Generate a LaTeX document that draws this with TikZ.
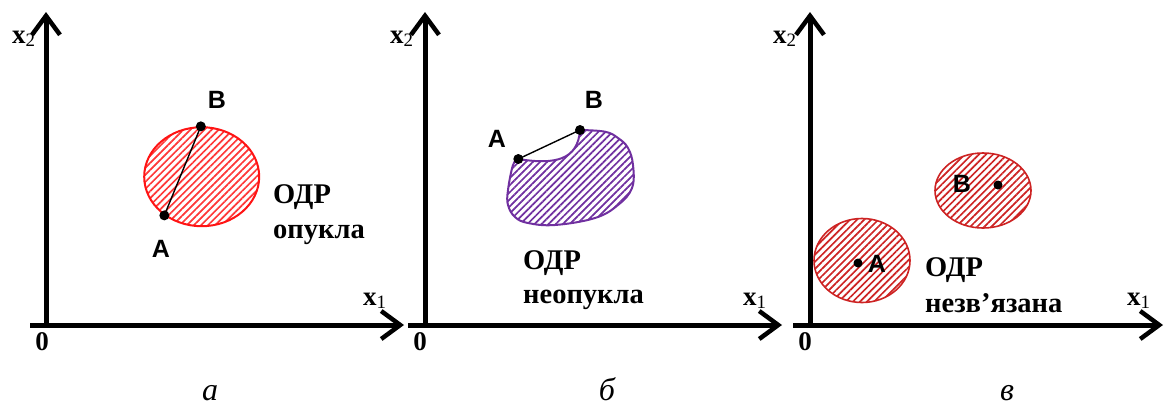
\documentclass[tikz,border=0pt]{standalone}
\usepackage{fontspec}
\setmainfont{Liberation Serif}
\newfontfamily\ptfont{Liberation Sans}
\usetikzlibrary{arrows.meta,patterns.meta,shapes.geometric}
\definecolor{odrred}{RGB}{255,20,20}
\definecolor{odrdark}{RGB}{205,35,35}
\definecolor{odrpurple}{RGB}{112,48,160}
\tikzset{
  axis/.style={line width=5pt,-{Straight Barb[length=19pt,width=28pt,line width=4.5pt]}},
  axlbl/.style={inner sep=0pt,anchor=base west,font=\fontsize{27}{30}\selectfont\bfseries},
  ptlbl/.style={inner sep=0pt,anchor=base,font=\ptfont\fontsize{25}{28}\selectfont\bfseries},
  odrlbl/.style={inner sep=0pt,anchor=base west,font=\fontsize{28.5}{32}\selectfont\bfseries},
  caplbl/.style={inner sep=0pt,anchor=base,font=\fontsize{32}{36}\selectfont\itshape},
  dot/.style={circle,fill=black,inner sep=0pt,minimum size=10pt},
  hatch/.style={pattern={Lines[angle=45,distance=5pt,line width=1.7pt]},pattern color=#1}
}
\begin{document}
\begin{tikzpicture}[x=1pt,y=-1pt]
  \useasboundingbox (0,0) rectangle (1167,405);
  % --- a: convex
  \coordinate (a-x0) at (30,325);   \coordinate (a-x1) at (404,325);
  \coordinate (a-y0) at (46,327);   \coordinate (a-y1) at (46,12);
  \draw[axis] (a-x0) -- (a-x1);
  \draw[axis] (a-y0) -- (a-y1);
  \node[axlbl] (a-lx2) at (12,43) {x\textsubscript{\mdseries 2}};
  \node[axlbl] (a-lx1) at (363,305) {x\textsubscript{\mdseries 1}};
  \node[axlbl,anchor=base] (a-l0) at (42,350) {0};
  \node[ellipse,draw=odrred,line width=2pt,hatch=odrred!85,inner sep=0pt,
        minimum width=115pt,minimum height=99pt] (a-odr) at (201.7,176.7) {};
  \node[dot] (a-B) at (a-odr.91) {};
  \node[dot] (a-A) at (a-odr.226) {};
  \draw[line width=1.4pt] (a-A.center) -- (a-B.center);
  \node[ptlbl] (a-lB) at (217,108) {B};
  \node[ptlbl] (a-lA) at (161,257) {A};
  \node[odrlbl] (a-t1) at (273,203) {ОДР};
  \node[odrlbl] (a-t2) at (273,238) {опукла};
  \node[caplbl] (a-cap) at (210,400) {а};
  % --- b: non-convex
  \coordinate (b-x0) at (408,325);  \coordinate (b-x1) at (782,325);
  \coordinate (b-y0) at (425,327);  \coordinate (b-y1) at (425,12);
  \draw[axis] (b-x0) -- (b-x1);
  \draw[axis] (b-y0) -- (b-y1);
  \node[axlbl] (b-lx2) at (390,43) {x\textsubscript{\mdseries 2}};
  \node[axlbl] (b-lx1) at (743,305) {x\textsubscript{\mdseries 1}};
  \node[axlbl,anchor=base] (b-l0) at (420,350) {0};
  \coordinate (b-pA) at (518.3,159);
  \coordinate (b-pB) at (580,130);
  \draw[odrpurple,line width=2pt,hatch=odrpurple,line join=round]
    plot[smooth,tension=0.65] coordinates {(580,130) (605,131.7) (618,138)
      (628,148) (633,165) (632,188) (618,205) (595,218)
      (555,225) (528,223) (515,217) (508,205) (508,190)
      (513,165) (518.3,159)}
    .. controls (555,165) and (578,160) .. (b-pB) -- cycle;
  \node[dot] (b-A) at (b-pA) {};
  \node[dot] (b-B) at (b-pB) {};
  \draw[line width=1.4pt] (b-A.center) -- (b-B.center);
  \node[ptlbl] (b-lA) at (497,147) {A};
  \node[ptlbl] (b-lB) at (594,108) {B};
  \node[odrlbl] (b-t1) at (523,269) {ОДР};
  \node[odrlbl] (b-t2) at (523,303) {неопукла};
  \node[caplbl] (b-cap) at (607,400) {б};
  % --- c: disconnected
  \coordinate (c-x0) at (793,325);  \coordinate (c-x1) at (1163,325);
  \coordinate (c-y0) at (810,327);  \coordinate (c-y1) at (810,12);
  \draw[axis] (c-x0) -- (c-x1);
  \draw[axis] (c-y0) -- (c-y1);
  \node[axlbl] (c-lx2) at (773,43) {x\textsubscript{\mdseries 2}};
  \node[axlbl] (c-lx1) at (1127,305) {x\textsubscript{\mdseries 1}};
  \node[axlbl,anchor=base] (c-l0) at (805,350) {0};
  \node[ellipse,draw=odrdark,line width=1.6pt,hatch=odrdark,inner sep=0pt,
        minimum width=96pt,minimum height=75pt] (c-odrB) at (983,190.5) {};
  \node[ellipse,draw=odrdark,line width=1.6pt,hatch=odrdark,inner sep=0pt,
        minimum width=96pt,minimum height=84pt] (c-odrA) at (862,260.5) {};
  \node[dot,minimum size=9pt] (c-B) at (998,185) {};
  \node[dot,minimum size=9pt] (c-A) at (858,263) {};
  \node[ptlbl] (c-lB) at (962,192) {B};
  \node[ptlbl] (c-lA) at (877,272) {A};
  \node[odrlbl] (c-t1) at (925,276) {ОДР};
  \node[odrlbl] (c-t2) at (925,312) {незв’язана};
  \node[caplbl] (c-cap) at (1007,400) {в};
\end{tikzpicture}
\end{document}
